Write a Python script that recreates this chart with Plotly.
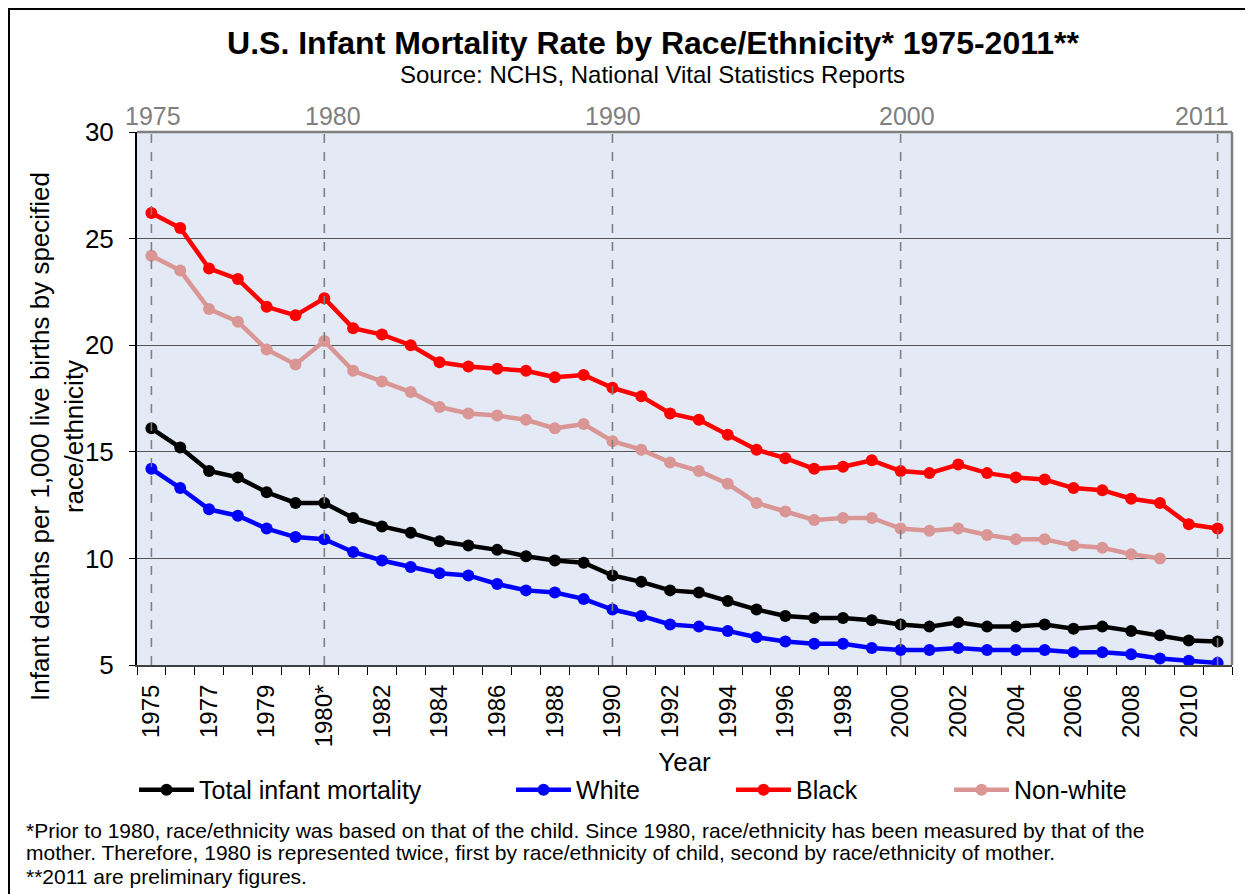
import plotly.graph_objects as go

# ---- data ----
categories = ["1975", "1976", "1977", "1978", "1979", "1980", "1980*", "1981", "1982", "1983",
              "1984", "1985", "1986", "1987", "1988", "1989", "1990", "1991", "1992", "1993",
              "1994", "1995", "1996", "1997", "1998", "1999", "2000", "2001", "2002", "2003",
              "2004", "2005", "2006", "2007", "2008", "2009", "2010", "2011"]

total = [16.1, 15.2, 14.1, 13.8, 13.1, 12.6, 12.6, 11.9, 11.5, 11.2,
         10.8, 10.6, 10.4, 10.1, 9.9, 9.8, 9.2, 8.9, 8.5, 8.4,
         8.0, 7.6, 7.3, 7.2, 7.2, 7.1, 6.9, 6.8, 7.0, 6.8,
         6.8, 6.9, 6.7, 6.8, 6.6, 6.4, 6.15, 6.1]

white = [14.2, 13.3, 12.3, 12.0, 11.4, 11.0, 10.9, 10.3, 9.9, 9.6,
         9.3, 9.2, 8.8, 8.5, 8.4, 8.1, 7.6, 7.3, 6.9, 6.8,
         6.6, 6.3, 6.1, 6.0, 6.0, 5.8, 5.7, 5.7, 5.8, 5.7,
         5.7, 5.7, 5.6, 5.6, 5.5, 5.3, 5.2, 5.1]

black = [26.2, 25.5, 23.6, 23.1, 21.8, 21.4, 22.2, 20.8, 20.5, 20.0,
         19.2, 19.0, 18.9, 18.8, 18.5, 18.6, 18.0, 17.6, 16.8, 16.5,
         15.8, 15.1, 14.7, 14.2, 14.3, 14.6, 14.1, 14.0, 14.4, 14.0,
         13.8, 13.7, 13.3, 13.2, 12.8, 12.6, 11.6, 11.4]

nonwhite = [24.2, 23.5, 21.7, 21.1, 19.8, 19.1, 20.2, 18.8, 18.3, 17.8,
            17.1, 16.8, 16.7, 16.5, 16.1, 16.3, 15.5, 15.1, 14.5, 14.1,
            13.5, 12.6, 12.2, 11.8, 11.9, 11.9, 11.4, 11.3, 11.4, 11.1,
            10.9, 10.9, 10.6, 10.5, 10.2, 10.0, None, None]

series_names = ["Total infant mortality", "White", "Black", "Non-white"]

# x tick labels: every other category shown
x_tick_text = [c if i % 2 == 0 else "" for i, c in enumerate(categories)]

# reference years marked with dashed lines and top labels
marker_categories = ["1975", "1980*", "1990", "2000", "2011"]
marker_labels = ["1975", "1980", "1990", "2000", "2011"]

y_ticks = [5, 10, 15, 20, 25, 30]

footnote_lines = [
    "*Prior to 1980, race/ethnicity was based on that of the child. Since 1980, race/ethnicity has been measured by that of the",
    "mother. Therefore, 1980 is represented twice, first by race/ethnicity of child, second by race/ethnicity of mother.",
    "**2011 are preliminary figures.",
]

# ---- styles ----
FONT = "Liberation Sans, Arial, sans-serif"
colors = ["#000000", "#0000FF", "#FF0000", "#D99694"]
legend_ids = ["legend", "legend2", "legend3", "legend4"]
legend_x = [-0.0027, 0.3416, 0.5425, 0.7416]
label_xshift = [2, 9, 1, 6, -16]
footnote_y = [-0.3096, -0.3527, -0.3977]

fig = go.Figure()
for name, vals, col, lg in zip(series_names, [total, white, black, nonwhite], colors, legend_ids):
    fig.add_trace(go.Scatter(
        x=categories, y=vals, name=name, mode="lines+markers",
        line=dict(color=col, width=4.5), marker=dict(color=col, size=12),
        legend=lg, connectgaps=False,
    ))

shapes = []
for cat in marker_categories:
    xi = categories.index(cat)
    shapes.append(dict(type="line", xref="x", yref="paper", x0=xi, x1=xi, y0=0, y1=1,
                       line=dict(color="#7f7f7f", width=1.6, dash="dash"), layer="above"))
# plot frame (top / right in gray)
shapes.append(dict(type="line", xref="paper", yref="paper", x0=0, x1=1, y0=1, y1=1,
                   line=dict(color="#808080", width=2.5)))
shapes.append(dict(type="line", xref="paper", yref="paper", x0=1, x1=1, y0=0, y1=1,
                   line=dict(color="#808080", width=2.5)))
# outer chart border
shapes.append(dict(type="rect", xref="paper", yref="paper", x0=-0.1169, x1=1.0155, y0=-0.46, y1=1.2308,
                   line=dict(color="#000000", width=2), fillcolor="rgba(0,0,0,0)"))

annotations = []
for cat, lab, xs in zip(marker_categories, marker_labels, label_xshift):
    annotations.append(dict(x=categories.index(cat), xref="x", y=1, yref="paper", yanchor="bottom",
                            text=lab, showarrow=False, xshift=xs, yshift=0,
                            font=dict(family=FONT, size=25, color="#808080")))
for line, fy in zip(footnote_lines, footnote_y):
    annotations.append(dict(x=-0.1031, xref="paper", y=fy, yref="paper", xanchor="left",
                            yanchor="middle", align="left", showarrow=False, text=line,
                            font=dict(family=FONT, size=21, color="#000000")))
annotations.append(dict(
    x=0.471, xref="paper", y=1.107, yref="paper", showarrow=False,
    text="Source: NCHS, National Vital Statistics Reports", xanchor="center", yanchor="middle",
    font=dict(family=FONT, size=24, color="#000000")))
annotations.append(dict(
    x=-0.0731, xref="paper", y=0.4296, yref="paper", showarrow=False, textangle=-90,
    xanchor="center", yanchor="middle",
    text="Infant deaths per 1,000 live births by specified<br>race/ethnicity",
    font=dict(family=FONT, size=26, color="#000000")))

legend_common = dict(orientation="h", y=-0.2345, yanchor="middle", xanchor="left", itemwidth=55,
                     bgcolor="rgba(0,0,0,0)", font=dict(family=FONT, size=25, color="#000"))

fig.update_layout(
    width=1245, height=886,
    margin=dict(l=129, r=21, t=124, b=229, autoexpand=False),
    paper_bgcolor="white", plot_bgcolor="#E4EAF5",
    font=dict(family=FONT, color="#000"),
    title=dict(text="<b>U.S. Infant Mortality Rate by Race/Ethnicity* 1975-2011**</b>",
               x=645 / 1245, xref="container", xanchor="center", y=1 - 35 / 886, yref="container",
               yanchor="middle", font=dict(family=FONT, size=32, color="#000")),
    xaxis=dict(type="category", range=[-0.5, len(categories) - 0.5],
               tickmode="array", tickvals=categories, ticktext=x_tick_text,
               tickangle=-90, tickson="boundaries", ticks="outside", ticklen=8, tickcolor="#000",
               ticklabelstandoff=8,
               showgrid=False, showline=True, linecolor="#404040", linewidth=2,
               tickfont=dict(family=FONT, size=24, color="#000"), automargin=False,
               title=dict(text="Year", font=dict(family=FONT, size=26, color="#000"), standoff=6)),
    yaxis=dict(range=[5, 30], tickmode="array", tickvals=y_ticks,
               ticks="outside", ticklen=6, tickcolor="#000", ticklabelstandoff=10,
               showgrid=True, gridcolor="#555555", gridwidth=1,
               showline=True, linecolor="#000", linewidth=2, zeroline=False,
               tickfont=dict(family=FONT, size=26, color="#000"), automargin=False),
    shapes=shapes, annotations=annotations,
    legend=dict(x=legend_x[0], **legend_common),
    legend2=dict(x=legend_x[1], **legend_common),
    legend3=dict(x=legend_x[2], **legend_common),
    legend4=dict(x=legend_x[3], **legend_common),
    showlegend=True,
)

fig.write_html("out.html")
